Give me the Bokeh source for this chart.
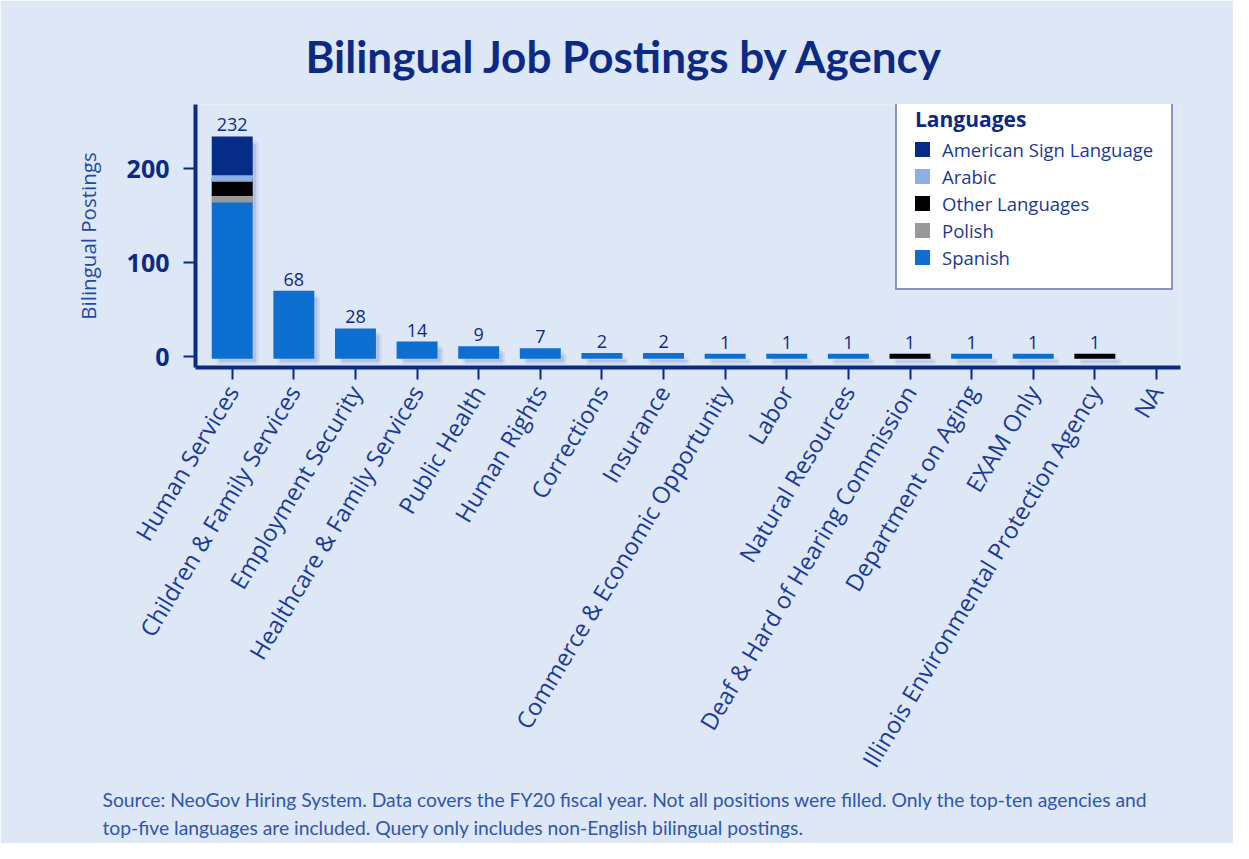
from bokeh.plotting import figure
from bokeh.models import (Range1d, FixedTicker, ColumnDataSource, Legend, LegendItem,
                          LabelSet, Title)
from bokeh.transform import dodge
from bokeh.core.properties import value
from bokeh.embed import file_html
from bokeh.resources import INLINE

# ---------------- data ----------------
agencies = ["Human Services", "Children & Family Services", "Employment Security",
            "Healthcare & Family Services", "Public Health", "Human Rights", "Corrections",
            "Insurance", "Commerce & Economic Opportunity", "Labor", "Natural Resources",
            "Deaf & Hard of Hearing Commission", "Department on Aging", "EXAM Only",
            "Illinois Environmental Protection Agency", "NA"]

# stacked from bottom to top
spanish = [166, 68, 28, 14, 9, 7, 2, 2, 1, 1, 1, 0, 1, 1, 0, 0]
polish = [7, 0, 0, 0, 0, 0, 0, 0, 0, 0, 0, 0, 0, 0, 0, 0]
other_languages = [15, 0, 0, 0, 0, 0, 0, 0, 0, 0, 0, 1, 0, 0, 1, 0]
arabic = [7, 0, 0, 0, 0, 0, 0, 0, 0, 0, 0, 0, 0, 0, 0, 0]
american_sign_language = [37, 0, 0, 0, 0, 0, 0, 0, 0, 0, 0, 0, 0, 0, 0, 0]

stack_names = ["Spanish", "Polish", "Other Languages", "Arabic", "American Sign Language"]
stack_values = [spanish, polish, other_languages, arabic, american_sign_language]
stack_colors = ["#0d6fcf", "#999999", "#000000", "#8db0e4", "#062c87"]
legend_order = ["American Sign Language", "Arabic", "Other Languages", "Polish", "Spanish"]

y_ticks = [0, 100, 200]

title_text = "Bilingual Job Postings by Agency"
source_line1 = ("Source: NeoGov Hiring System. Data covers the FY20 fiscal year. Not all positions "
                "were filled. Only the top-ten agencies and")
source_line2 = "top-five languages are included. Query only includes non-English bilingual postings."

# ---------------- styling ----------------
BG = "#dde7f6"
NAVY = "#0b2a86"
TEXT = "#1a3a9a"
FONT = "Open Sans"

xs = list(range(len(agencies)))
totals = [sum(v[i] for v in stack_values) for i in xs]

p = figure(width=1233, height=843, output_backend="svg", toolbar_location=None,
           x_range=Range1d(-0.596, 15.39), y_range=Range1d(-11.4, 268.1),
           min_border_left=195, min_border_right=53, min_border_top=104,
           min_border_bottom=476)
p.background_fill_color = BG
p.border_fill_color = BG
p.outline_line_color = None
p.grid.visible = False

# title
p.title.text = title_text
p.title.align = "left"
p.title.offset = 110
p.title.standoff = 46
p.title.text_font = "Lato"
p.title.text_font_size = "44px"
p.title.text_font_style = "bold"
p.title.text_color = NAVY

# shadows
shadow_src = ColumnDataSource(dict(x=[x for x, t in zip(xs, totals) if t > 0],
                                   top=[t for t in totals if t > 0],
                                   bottom=[0 for t in totals if t > 0]))
p.vbar(x=dodge("x", 0.085), top=dodge("top", -5.5), bottom=dodge("bottom", -5.5),
       width=0.6, source=shadow_src, fill_color="#95a6d8", line_color="#95a6d8",
       fill_alpha=0.45, line_alpha=0.25, line_width=5)

renderers = {}
cum = [0] * len(xs)
for name, vals, col in zip(stack_names, stack_values, stack_colors):
    sx, sb, st = [], [], []
    for i in xs:
        if vals[i] > 0:
            sx.append(i)
            sb.append(cum[i])
            st.append(cum[i] + vals[i])
        cum[i] += vals[i]
    src = ColumnDataSource(dict(x=sx, bottom=sb, top=st))
    renderers[name] = p.vbar(x="x", bottom="bottom", top="top", width=0.6, source=src,
                             fill_color=col, line_color=col, line_width=4,
                             line_join="miter")

# value labels
lab_src = ColumnDataSource(dict(x=[x for x, t in zip(xs, totals) if t > 0],
                                y=[t for t in totals if t > 0],
                                t=[str(t) for t in totals if t > 0]))
p.add_layout(LabelSet(x="x", y="y", text="t", source=lab_src, text_align="center",
                      text_baseline="alphabetic", y_offset=7, text_font=value(FONT),
                      text_font_size="18px", text_color=NAVY))

# axes
xa = p.xaxis[0]
xa.ticker = FixedTicker(ticks=xs)
xa.major_label_overrides = {i: a for i, a in enumerate(agencies)}
xa.major_label_orientation = 1.03
xa.major_label_text_font = FONT
xa.major_label_text_font_size = "23.5px"
xa.major_label_text_color = TEXT
xa.major_label_standoff = 8
xa.axis_line_color = NAVY
xa.axis_line_width = 4
xa.major_tick_line_color = NAVY
xa.major_tick_line_width = 2
xa.major_tick_out = 12
xa.major_tick_in = 0
xa.minor_tick_line_color = None

ya = p.yaxis[0]
ya.ticker = FixedTicker(ticks=y_ticks)
ya.major_label_text_font = FONT
ya.major_label_text_font_size = "25px"
ya.major_label_text_font_style = "bold"
ya.major_label_text_color = NAVY
ya.major_label_standoff = 14
ya.axis_line_color = NAVY
ya.axis_line_width = 4
ya.major_tick_line_color = NAVY
ya.major_tick_line_width = 2
ya.major_tick_out = 12
ya.major_tick_in = 0
ya.minor_tick_line_color = None
ya.axis_label = "Bilingual Postings"
ya.axis_label_text_font = FONT
ya.axis_label_text_font_size = "20.5px"
ya.axis_label_text_font_style = "normal"
ya.axis_label_text_color = "#1f4ba6"
ya.axis_label_standoff = 22

# legend
items = [LegendItem(label=n, renderers=[renderers[n]]) for n in legend_order]
legend = Legend(items=items, location=(700, 77), title="Languages",
                title_text_font=FONT, title_text_font_size="21px",
                title_text_font_style="bold", title_text_color=NAVY, title_standoff=4,
                label_text_font=FONT, label_text_font_size="18.5px", label_text_color=TEXT,
                glyph_width=15, glyph_height=15, label_height=20, label_standoff=12,
                spacing=2, padding=18, margin=0,
                border_line_color=NAVY, border_line_width=2.5,
                background_fill_color="white", background_fill_alpha=1.0)
p.add_layout(legend)

# source note below the category axis
for txt, so in [(source_line1, 3), (source_line2, 3)]:
    p.add_layout(Title(text=txt, align="left", offset=-93, standoff=so,
                       text_font="Lato", text_font_size="19.3px",
                       text_font_style="normal", text_color="#3056b0"), "below")

open("out.html", "w").write(file_html(p, INLINE))
